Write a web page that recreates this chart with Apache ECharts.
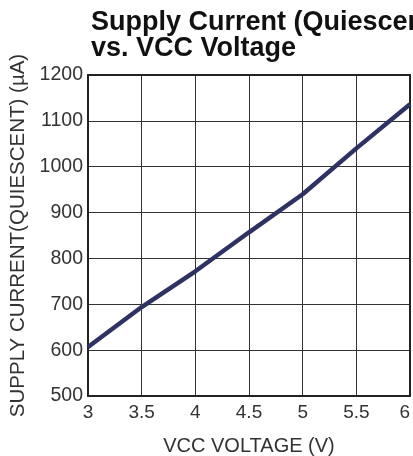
<!DOCTYPE html>
<html><head><meta charset="utf-8">
<script src="https://cdn.jsdelivr.net/npm/echarts@6/dist/echarts.min.js"></script>
<style>html,body{margin:0;padding:0;background:#fff;overflow:hidden}#c{width:413px;height:456px}</style>
</head><body><div id="c"></div>
<script>
const voltage = [3, 3.5, 4, 4.5, 5, 5.5, 6];
const current = [607, 694, 772, 857, 940, 1040, 1136];
const xTicks = [3, 3.5, 4, 4.5, 5, 5.5, 6];
const yTicks = [500, 600, 700, 800, 900, 1000, 1100, 1200];
const titleText = 'Supply Current (Quiescent)\nvs. VCC Voltage';
const xName = 'VCC VOLTAGE (V)';
const yName = 'SUPPLY CURRENT(QUIESCENT) (µA)';

const chart = echarts.init(document.getElementById('c'));
const font = 'Liberation Sans, Arial, sans-serif';
const frame = {show: true, onZero: false, lineStyle: {color: '#222', width: 2}};
chart.setOption({
  animation: false,
  title: {
    text: titleText, left: 86, top: 5,
    textStyle: {fontFamily: font, fontSize: 27, fontWeight: 'bold', color: '#111', lineHeight: 26}
  },
  grid: {left: 88, right: 3, top: 75, bottom: 60, containLabel: false, outerBoundsMode: 'none'},
  xAxis: [{
    type: 'value', min: 3, max: 6, interval: 0.5,
    name: xName, nameLocation: 'middle', nameGap: 40,
    nameTextStyle: {fontFamily: font, fontSize: 20, color: '#333'},
    axisLine: frame,
    axisTick: {show: false},
    axisLabel: {fontFamily: font, fontSize: 19, color: '#333', margin: 7, alignMaxLabel: 'right',
      formatter: v => xTicks.includes(v) ? String(v) : ''},
    splitLine: {show: true, lineStyle: {color: '#333', width: 1}}
  }, {
    type: 'value', min: 3, max: 6, position: 'top',
    axisLine: frame, axisLabel: {show: false}, axisTick: {show: false}, splitLine: {show: false}
  }],
  yAxis: [{
    type: 'value', min: 500, max: 1200, interval: 100,
    name: yName, nameLocation: 'middle', nameGap: 57, nameRotate: 90,
    nameTextStyle: {fontFamily: font, fontSize: 20.5, color: '#333'},
    axisLine: frame,
    axisTick: {show: false},
    axisLabel: {fontFamily: font, fontSize: 19.5, color: '#333', margin: 5,
      formatter: v => yTicks.includes(v) ? String(v) : ''},
    splitLine: {show: true, lineStyle: {color: '#333', width: 1}}
  }, {
    type: 'value', min: 500, max: 1200, position: 'right',
    axisLine: frame, axisLabel: {show: false}, axisTick: {show: false}, splitLine: {show: false}
  }],
  series: [{
    type: 'line', data: voltage.map((v, i) => [v, current[i]]),
    showSymbol: false, smooth: false,
    lineStyle: {color: '#2d3263', width: 4.5}
  }]
});
</script></body></html>
